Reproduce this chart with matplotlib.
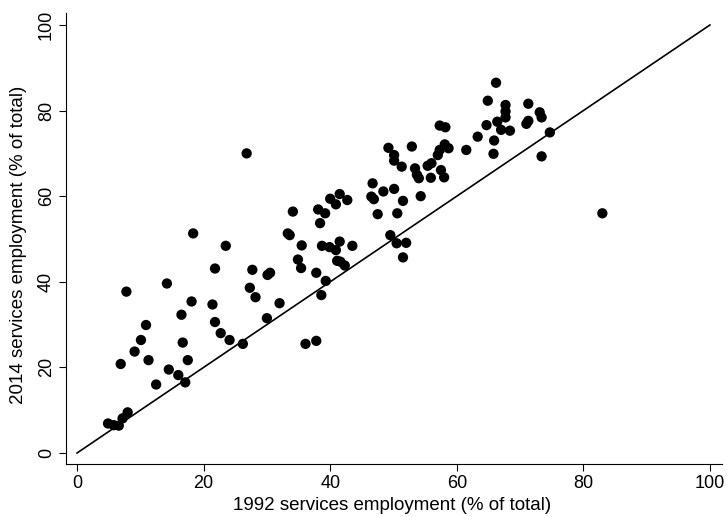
import matplotlib
matplotlib.use("Agg")
import matplotlib.pyplot as plt
import numpy as np

# services employment share, % of total
emp_1992 = [4.9, 5.8, 6.6, 7.2, 8.0,
            6.9, 7.8, 9.1, 10.1, 10.9, 11.3, 12.5, 14.2, 14.5, 16.0, 16.5, 16.7, 17.1, 17.5,
            18.1, 18.35, 21.4, 21.8, 21.8, 22.7, 23.5, 24.1, 26.2, 26.8, 27.3, 27.7, 28.2,
            30.0, 30.1, 30.5, 32.0,
            33.3, 33.6, 34.1, 34.9, 35.4, 35.5, 36.1, 37.8, 37.8, 38.1, 38.4, 38.6, 38.7, 39.2,
            39.3, 39.9, 40.0, 40.9, 40.9, 41.1, 41.5, 41.5, 41.6, 42.3, 42.7, 43.5,
            46.5, 46.7, 46.9, 47.5, 48.4, 49.2, 49.5, 50.1, 50.1, 50.1, 50.5, 50.6, 51.3, 51.5,
            51.5, 52.0, 52.9, 53.4, 53.7, 54.0, 54.3, 55.4, 55.9, 56.0,
            57.3, 58.2, 58.1, 58.7, 57.3, 57.0, 57.5, 58.0,
            61.5, 63.3, 64.7, 64.9, 65.8, 65.9, 66.2, 66.4, 67.0, 67.7, 67.7, 67.7, 68.4,
            71.0, 71.3, 71.3, 73.1, 73.4, 73.4, 74.7, 83.0]
emp_2014 = [6.9, 6.5, 6.4, 8.1, 9.5,
            20.8, 37.7, 23.7, 26.4, 29.9, 21.7, 16.0, 39.6, 19.5, 18.2, 32.3, 25.8, 16.5, 21.7,
            35.4, 51.3, 34.7, 43.1, 30.6, 28.0, 48.4, 26.4, 25.5, 70.0, 38.6, 42.8, 36.4,
            31.5, 41.6, 42.1, 35.0,
            51.3, 50.9, 56.4, 45.2, 43.2, 48.5, 25.5, 26.2, 42.1, 56.9, 53.7, 36.9, 48.4, 56.0,
            40.2, 48.1, 59.4, 58.1, 47.4, 44.9, 60.5, 49.4, 44.7, 43.8, 59.1, 48.4,
            59.9, 63.0, 59.3, 55.8, 61.1, 71.3, 50.9, 69.6, 68.3, 61.7, 49.0, 56.0, 66.9, 58.9,
            45.7, 49.1, 71.6, 66.5, 65.0, 64.2, 60.0, 67.1, 64.3, 67.7,
            76.5, 76.1, 72.1, 71.2, 70.8, 69.6, 66.1, 64.4,
            70.8, 73.9, 76.6, 82.3, 69.9, 73.0, 86.5, 77.4, 75.5, 81.3, 79.8, 78.4, 75.3,
            76.9, 77.6, 81.6, 79.6, 78.4, 69.3, 74.9, 56.0]

ticks = [0, 20, 40, 60, 80, 100]

plt.rcParams['font.family'] = ['Liberation Sans', 'DejaVu Sans']

fig = plt.figure(figsize=(7.27, 5.17), dpi=100)
ax = fig.add_axes([0.0908, 0.1025, 0.9023, 0.8724])

# 45 degree line
ax.plot([0, 100], [0, 100], color='black', linewidth=1.2, zorder=1)
ax.scatter(emp_1992, emp_2014, s=55, color='black', edgecolors='none', zorder=2)

ax.set_xlim(-1.74, 101.9)
ax.set_ylim(-2.57, 102.8)
ax.set_xticks(ticks)
ax.set_yticks(ticks)
ax.tick_params(direction='out', length=5, width=0.8, labelsize=13, pad=3)
for lab in ax.get_yticklabels():
    lab.set_rotation(90)
    lab.set_va('center')

for side in ['top', 'right']:
    ax.spines[side].set_visible(False)
for side in ['left', 'bottom']:
    ax.spines[side].set_linewidth(0.8)

# axis titles placed like the Stata original
fig.text(392 / 727, 1 - 505 / 517, '1992 services employment (% of total)',
         fontsize=13.5, ha='center', va='center')
fig.text(19 / 727, 1 - 245 / 517, '2014 services employment (% of total)',
         fontsize=13.5, ha='center', va='center', rotation=90)

fig.savefig('out.png', dpi=100)
